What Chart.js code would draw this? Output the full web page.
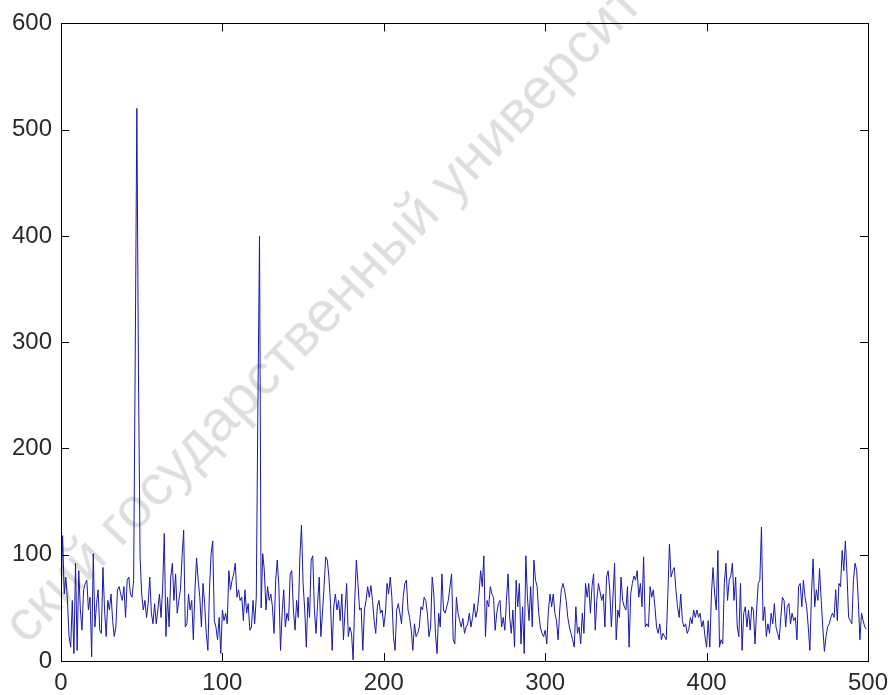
<!DOCTYPE html>
<html>
<head>
<meta charset="utf-8">
<script src="https://cdn.jsdelivr.net/npm/chart.js@4/dist/chart.umd.min.js"></script>
<style>
  html, body { margin: 0; padding: 0; background: #fff; overflow: hidden; }
  #wrap { position: relative; width: 896px; height: 695px; }
  #watermark {
    position: absolute; left: 33px; top: 594px;
    font-family: "Liberation Sans", Arial, sans-serif; font-size: 58px; line-height: 58px;
    color: rgba(0,0,0,0.13); white-space: nowrap;
    transform-origin: 0 100%; transform: rotate(-46deg);
    pointer-events: none;
  }
</style>
</head>
<body>
<div id="wrap">
  <canvas id="chart_signal" width="896" height="695"></canvas>
  <div id="watermark">ский государственный университет</div>
</div>
<script>
// tick labels
var x_ticks = [0, 100, 200, 300, 400, 500];
var y_ticks = [0, 100, 200, 300, 400, 500, 600];

// signal samples (index 0..499)
var signal_0_99 = [57,118,63,79,57,23,13,57,7,92,10,85,48,29,67,73,76,48,60,4,
    101,32,54,67,29,26,88,48,23,57,48,63,38,23,32,67,70,63,57,70,
    41,76,79,63,60,76,288,520,270,97,63,48,57,41,54,79,45,35,54,35,
    48,63,41,70,120,23,60,32,79,92,57,82,45,57,67,98,123,32,35,63,
    48,57,20,67,97,76,60,32,73,54,26,10,67,101,113,38,32,20,41,7];
var signal_100_199 = [48,38,45,35,85,67,76,82,92,60,67,57,60,38,67,45,54,29,32,57,
    35,60,240,400,50,101,85,48,70,57,63,51,26,76,95,70,10,45,67,32,
    45,38,82,85,48,29,57,41,98,128,73,48,13,60,41,95,99,48,26,54,
    79,23,45,70,98,95,79,54,10,51,63,48,57,38,63,20,48,73,23,32,
    26,1,57,95,73,48,50,10,48,57,70,60,71,57,38,26,51,57,45,48];
var signal_200_299 = [32,45,73,63,79,60,23,10,48,54,45,35,60,73,76,48,41,29,10,35,
    23,26,32,51,48,60,57,45,23,32,79,63,26,7,45,32,82,48,45,51,
    57,70,82,20,16,60,45,38,32,40,26,32,35,45,32,41,54,41,48,63,
    85,70,99,23,57,51,70,63,60,29,45,54,57,32,41,29,57,82,41,26,
    48,13,76,51,73,16,51,7,99,60,38,70,32,95,76,70,45,32,26,23];
var signal_300_399 = [29,16,48,63,51,63,45,38,20,48,67,73,67,57,41,32,26,20,13,51,
    26,32,16,45,26,73,60,73,45,70,82,29,57,73,65,57,63,32,79,85,
    67,32,60,92,20,48,41,79,57,51,48,70,13,63,73,80,76,85,60,73,
    51,98,32,35,32,70,60,67,51,32,26,35,20,26,23,20,63,110,79,85,
    88,67,51,41,63,38,32,35,26,30,41,35,48,41,48,41,45,32,38,23];
var signal_400_499 = [13,38,13,63,88,63,48,104,13,20,16,73,92,57,76,80,92,57,79,32,
    23,73,10,45,51,32,48,29,51,48,16,48,73,76,126,38,51,23,35,26,
    45,35,54,32,26,20,41,60,57,32,51,54,35,45,38,41,20,70,73,51,
    76,60,51,32,10,63,96,51,67,57,87,57,32,9,23,32,35,41,45,41,
    67,38,73,70,104,85,113,82,41,38,35,76,92,85,57,20,45,38,32,30];

var signal = signal_0_99.concat(signal_100_199, signal_200_299, signal_300_399, signal_400_499);

var points = new Array();
for (var i = 0; i < signal.length; i++) {
    points.push({x: i, y: signal[i]});
}

var label_font = {family: "'Liberation Sans', Arial, sans-serif", size: 24};

// MATLAB style box with inward tick marks on all four sides
var boxTicks = {
    id: 'boxTicks',
    afterDraw: function(chart) {
        var ctx = chart.ctx;
        var a = chart.chartArea;
        var len = 8;
        ctx.save();
        ctx.strokeStyle = '#000';
        ctx.lineWidth = 1;
        ctx.strokeRect(Math.round(a.left) + 0.5, Math.round(a.top) + 0.5,
            Math.round(a.right - a.left), Math.round(a.bottom - a.top));
        ctx.beginPath();
        var sx = chart.scales.x;
        for (var i in x_ticks) {
            var px = Math.round(sx.getPixelForValue(x_ticks[i])) + 0.5;
            ctx.moveTo(px, a.bottom); ctx.lineTo(px, a.bottom - len);
            ctx.moveTo(px, a.top); ctx.lineTo(px, a.top + len);
        }
        var sy = chart.scales.y;
        for (var j in y_ticks) {
            var py = Math.round(sy.getPixelForValue(y_ticks[j])) + 0.5;
            ctx.moveTo(a.left, py); ctx.lineTo(a.left + len, py);
            ctx.moveTo(a.right, py); ctx.lineTo(a.right - len, py);
        }
        ctx.stroke();
        ctx.restore();
    }
};

var ctx = document.getElementById("chart_signal").getContext("2d");
var lineChart = new Chart(ctx, {
    type: 'line',
    data: {
        datasets: [{
            data: points,
            borderColor: '#1a1aa6',
            borderWidth: 1,
            pointRadius: 0,
            tension: 0,
            fill: false
        }]
    },
    options: {
        responsive: false,
        animation: false,
        layout: {padding: {left: 0, right: 24, top: 20, bottom: 0}},
        plugins: {legend: {display: false}, tooltip: {enabled: false}},
        scales: {
            x: {
                type: 'linear', min: 0, max: 500,
                afterBuildTicks: function(s) { s.ticks = x_ticks.map(function(v) { return {value: v}; }); },
                afterFit: function(s) { s.height = 34; },
                grid: {drawOnChartArea: false, drawTicks: false},
                border: {display: false},
                ticks: {font: label_font, color: '#2a2a2a', padding: 8, maxRotation: 0}
            },
            y: {
                min: 0, max: 600,
                afterBuildTicks: function(s) { s.ticks = y_ticks.map(function(v) { return {value: v}; }); },
                afterFit: function(s) { s.width = 61; },
                grid: {drawOnChartArea: false, drawTicks: false},
                border: {display: false},
                ticks: {font: label_font, color: '#2a2a2a', padding: 9}
            }
        }
    },
    plugins: [boxTicks]
});
</script>
</body>
</html>
